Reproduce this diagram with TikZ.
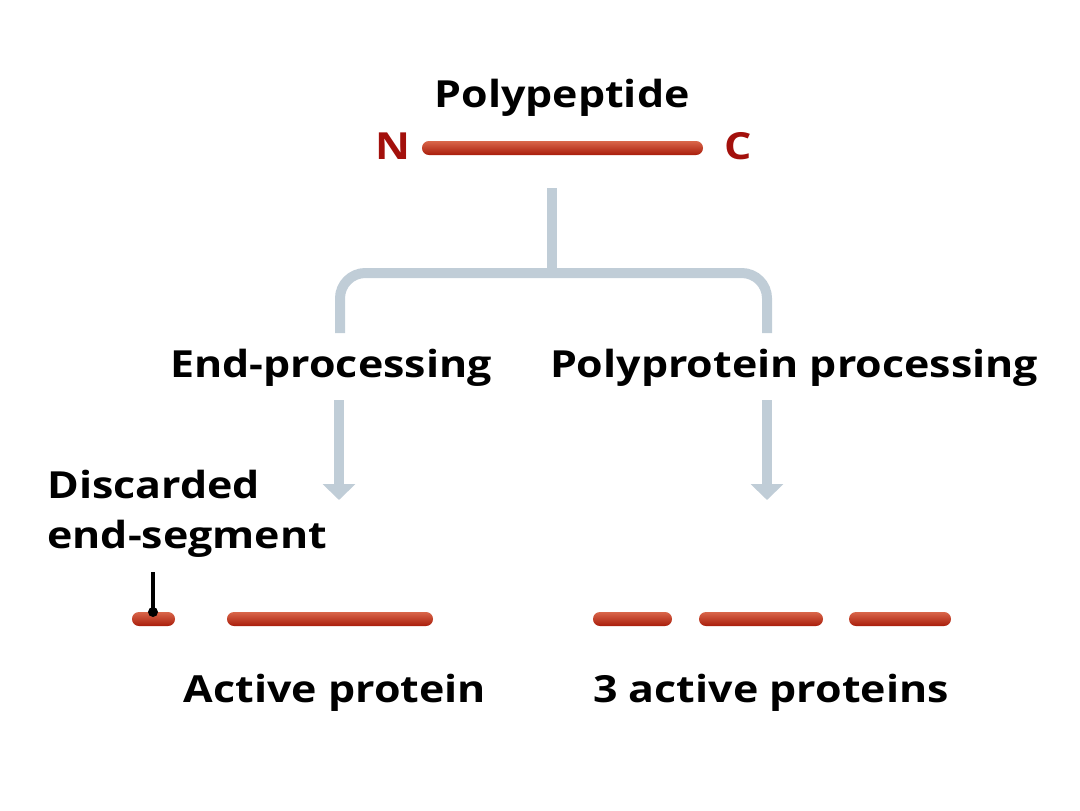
\documentclass[tikz,border=0pt]{standalone}
\usepackage{fontspec}
\setmainfont{Open Sans}[FakeStretch=1.15]
\usetikzlibrary{arrows.meta}
\definecolor{connGray}{HTML}{C0CDD7}
\definecolor{termRed}{HTML}{A3100C}
\definecolor{barTop}{HTML}{D9664A}
\definecolor{barMid}{HTML}{E58C6F}
\definecolor{barBot}{HTML}{A91D0B}
\tikzset{
  lbl/.style={font=\fontsize{28}{34}\selectfont\bfseries, inner sep=0pt, anchor=base},
  term/.style={font=\fontsize{28}{34}\selectfont\bfseries, text=termRed, inner sep=0pt},
  bar/.style={rectangle, inner sep=0pt, minimum height=14*0.75pt, rounded corners=5.2pt,
    top color=barTop, middle color=barMid, bottom color=barBot, draw=none},
  branch/.style={draw=connGray, line width=7.5pt, line cap=butt},
  flow/.style={branch, -{Triangle[width=24pt, length=12pt]}},
  pointer/.style={draw=black, line width=3pt}
}
\begin{document}
\begin{tikzpicture}[x=0.75pt, y=-0.75pt]
\useasboundingbox (0,0) rectangle (1080,810);
% top polypeptide
\node[lbl] (title) at (562,107) {Polypeptide};
\node[term] (N) at (393,146) {N};
\node[term] (C) at (738,146) {C};
\node[bar, minimum width=281*0.75pt] (poly) at (562.5,148) {};
% branch
\coordinate (stemTop) at (552,188);
\coordinate (junction) at (552,273);
\coordinate (leftEnd) at (340,333);
\coordinate (rightEnd) at (767,333);
\draw[branch] (stemTop) -- (junction);
\draw[branch, rounded corners=19pt] (leftEnd) |- (junction) -| (rightEnd);
% process labels
\node[lbl] (endproc) at (331,377) {End-processing};
\node[lbl] (polyproc) at (794,377) {Polyprotein processing};
% arrows
\coordinate (la1) at (339,400);
\coordinate (la2) at (339,500);
\coordinate (ra1) at (767,400);
\coordinate (ra2) at (767,500);
\draw[flow] (la1) -- (la2);
\draw[flow] (ra1) -- (ra2);
% discarded label
\node[lbl, anchor=base west] (disc1) at (47,498) {Discarded};
\node[lbl, anchor=base west] (disc2) at (47,548) {end-segment};
% left products
\node[bar, minimum width=43*0.75pt] (seg) at (153.5,619) {};
\node[bar, minimum width=206*0.75pt] (active) at (330,619) {};
\node[circle, fill=black, inner sep=0pt, minimum size=7.5pt] (dot) at (153,612) {};
\coordinate (ptrTop) at (153,572);
\draw[pointer] (ptrTop) -- (dot.center);
% right products
\node[bar, minimum width=79*0.75pt] (p1) at (632.5,619) {};
\node[bar, minimum width=124*0.75pt] (p2) at (761,619) {};
\node[bar, minimum width=102*0.75pt] (p3) at (900,619) {};
% bottom labels
\node[lbl] (actlbl) at (335,702) {Active protein};
\node[lbl] (act3lbl) at (771,702) {3 active proteins};
\end{tikzpicture}
\end{document}
